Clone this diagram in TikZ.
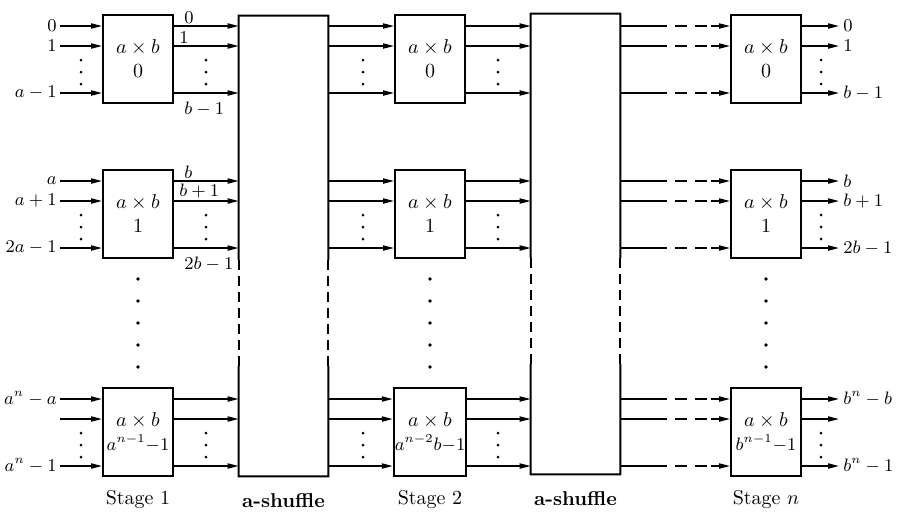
\documentclass[tikz,border=0pt]{standalone}
\usetikzlibrary{positioning,arrows.meta,calc}
\tikzset{
  xb/.style   ={draw, line width=1pt, minimum width=35pt, minimum height=44pt,
                inner sep=0.5pt, align=center},
  shuf/.style ={minimum width=44.5pt, minimum height=230pt, inner sep=0pt},
  shedge/.style={line width=1pt},
  fl/.style   ={-{Triangle[length=5.5pt,width=2.6pt]}, line width=0.7pt},
  dsh/.style  ={dash pattern=on 5pt off 3pt},
  ldsh/.style ={line width=0.7pt, dash pattern=on 6pt off 4pt},
  inl/.style  ={anchor=east, inner sep=1.5pt, font=\small},
  outl/.style ={anchor=west, inner sep=2pt, font=\small},
  lbl/.style  ={inner sep=1pt, font=\small},
  stagelbl/.style={font=\normalsize},
  pics/vd/.style   ={code={\foreach \d in {0,6,12} \fill (0,-\d pt) circle (0.75pt);}},
  pics/bigvd/.style={code={\foreach \d in {0,11,22,33,44} \fill (0,-\d pt) circle (0.9pt);}},
}

\begin{document}
\begin{tikzpicture}[x=0.5pt,y=-0.5pt]
  \useasboundingbox (0,0) rectangle (897,511);

  % --- a x b switches, one column per stage ----------------------------
  \node[xb] (s1b0) at (138,59)  {$a\times b$\\$0$};
  \node[xb] (s1b1) at (138,214) {$a\times b$\\$1$};
  \node[xb] (s1bn) at (138,432) {$a\times b$\\\small$a^{n-1}{-}1$};
  \node[xb] (s2b0) at (430,59)  {$a\times b$\\$0$};
  \node[xb] (s2b1) at (430,214) {$a\times b$\\$1$};
  \node[xb] (s2bn) at (430,432) {$a\times b$\\\small$a^{n-2}b{-}1$};
  \node[xb] (snb0) at (766,59)  {$a\times b$\\$0$};
  \node[xb] (snb1) at (766,214) {$a\times b$\\$1$};
  \node[xb] (snbn) at (766,432) {$a\times b$\\\small$b^{n-1}{-}1$};

  % --- the two a-shuffles ------------------------------------------------
  \node[shuf] (sh1) at (283.5,246) {};
  \node[shuf] (sh2) at (575.5,244) {};
  \foreach \s in {sh1,sh2}{
    \draw[shedge] ($(\s.north west)!.53!(\s.south west)$) -- (\s.north west)
                -- (\s.north east) -- ($(\s.north east)!.53!(\s.south east)$);
    \draw[shedge] ($(\s.north west)!.76!(\s.south west)$) -- (\s.south west)
                -- (\s.south east) -- ($(\s.north east)!.76!(\s.south east)$);
    \draw[shedge,dsh] ($(\s.north west)!.53!(\s.south west)$) -- ($(\s.north west)!.76!(\s.south west)$);
    \draw[shedge,dsh] ($(\s.north east)!.53!(\s.south east)$) -- ($(\s.north east)!.76!(\s.south east)$);
  }

  % --- port rows on both sides of every switch ---------------------------
  \foreach \b in {s1b0,s1b1,s1bn,s2b0,s2b1,s2bn,snb0,snb1,snbn}{
    \foreach \k/\dy in {1/-33,2/-13,3/34}{
      \coordinate (\b-w\k) at ($(\b.west)+(0,\dy)$);
      \coordinate (\b-e\k) at ($(\b.east)+(0,\dy)$);
    }
  }

  % --- stage 1 ------------------------------------------------------------
  \foreach \b/\la/\lb/\lc in {s1b0/0/1/a-1, s1b1/a/a+1/2a-1}{
    \node[inl] (\b-i1) at ($(\b-w1)+(-42,0)$) {$\la$};
    \node[inl] (\b-i2) at ($(\b-w2)+(-42,0)$) {$\lb$};
    \node[inl] (\b-i3) at ($(\b-w3)+(-42,0)$) {$\lc$};
  }
  \node[inl] (s1bn-i1) at ($(s1bn-w1)+(-42,0)$) {$a^n-a$};
  \coordinate (s1bn-i2) at ($(s1bn-w2)+(-42,0)$);
  \node[inl] (s1bn-i3) at ($(s1bn-w3)+(-42,0)$) {$a^n-1$};
  \foreach \b in {s1b0,s1b1,s1bn}{
    \foreach \k in {1,2,3}{
      \draw[fl] (\b-i\k) -- (\b-w\k);
      \draw[fl] (\b-e\k) -- (\b-e\k -| sh1.west);
    }
    \pic at ($(\b.center)+(-57,1)$) {vd};
    \pic at ($(\b.center)+(68,1)$) {vd};
  }
  \foreach \b/\la/\lb/\lc in {s1b0/0/1/b-1, s1b1/b/b+1/2b-1}{
    \node[lbl, anchor=south west] at ($(\b-e1)+(8,0)$) {$\la$};
    \node[lbl, anchor=south west] at ($(\b-e2)+(3,0)$) {$\lb$};
    \node[lbl, anchor=north west] at ($(\b-e3)+(8,7)$) {$\lc$};
  }

  % --- stage 2 ------------------------------------------------------------
  \foreach \b in {s2b0,s2b1,s2bn}{
    \foreach \k in {1,2,3}{
      \draw[fl] (\b-w\k -| sh1.east) -- (\b-w\k);
      \draw[fl] (\b-e\k) -- (\b-e\k -| sh2.west);
    }
    \pic at ($(\b.center)+(-67,1)$) {vd};
    \pic at ($(\b.center)+(68,1)$) {vd};
  }

  % --- stage n: inputs broken by dashes ---------------------------------
  \foreach \b in {snb0,snb1,snbn}{
    \foreach \k in {1,2,3}{
      \draw[line width=0.7pt] (\b-w\k -| sh2.east) -- ($(\b-w\k)+(-75,0)$);
      \draw[ldsh] ($(\b-w\k)+(-75,0)$) -- ($(\b-w\k)+(-19,0)$);
      \draw[fl] ($(\b-w\k)+(-19,0)$) -- (\b-w\k);
    }
    \pic at ($(\b.center)+(55,1)$) {vd};
  }
  \foreach \b/\la/\lb/\lc in {snb0/0/1/b-1, snb1/b/b+1/2b-1}{
    \node[outl] (\b-o1) at ($(\b-e1)+(37,0)$) {$\la$};
    \node[outl] (\b-o2) at ($(\b-e2)+(37,0)$) {$\lb$};
    \node[outl] (\b-o3) at ($(\b-e3)+(37,0)$) {$\lc$};
  }
  \node[outl] (snbn-o1) at ($(snbn-e1)+(37,0)$) {$b^n-b$};
  \coordinate (snbn-o2) at ($(snbn-e2)+(37,0)$);
  \node[outl] (snbn-o3) at ($(snbn-e3)+(37,0)$) {$b^n-1$};
  \foreach \b in {snb0,snb1,snbn}
    \foreach \k in {1,2,3} \draw[fl] (\b-e\k) -- (\b-o\k);

  % --- dots between switch 1 and the last one ---------------------------
  \pic at (138,279) {bigvd};
  \pic at (430,279) {bigvd};
  \pic at (766,279) {bigvd};

  % --- captions -------------------------------------------------------------
  \node[stagelbl, below=3pt of s1bn] (c1) {Stage 1};
  \node[stagelbl, below=5pt of sh1, font=\bfseries] (c2) {a-shuffle};
  \node[stagelbl, below=3pt of s2bn] (c3) {Stage 2};
  \node[stagelbl, below=5pt of sh2, font=\bfseries] (c4) {a-shuffle};
  \node[stagelbl, below=3pt of snbn] (c5) {Stage $n$};
\end{tikzpicture}
\end{document}
